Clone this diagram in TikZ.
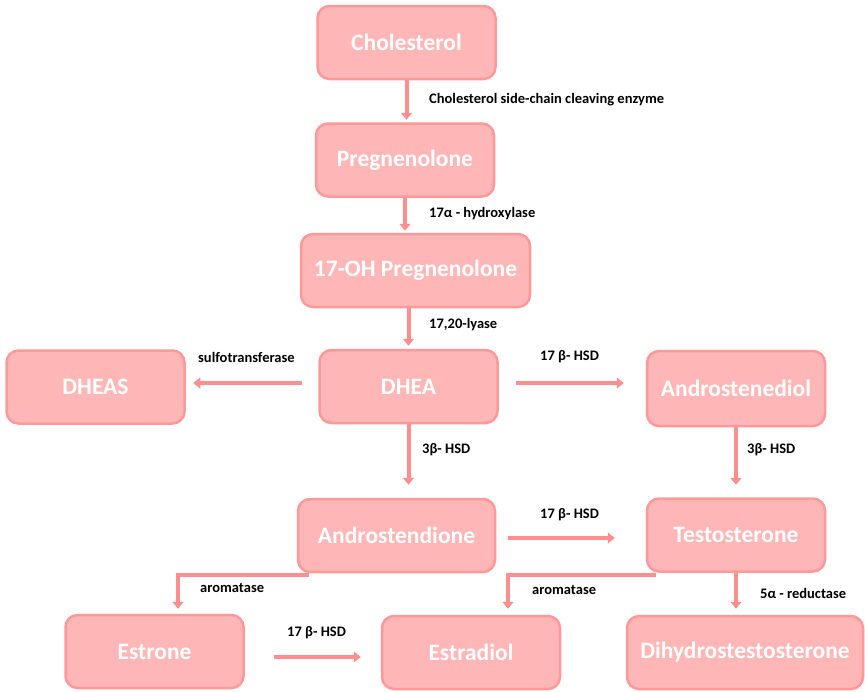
\documentclass[tikz,border=0pt]{standalone}
\usepackage{fontspec}
\setmainfont{Carlito}
\usetikzlibrary{arrows.meta,calc,positioning}
\definecolor{boxfill}{HTML}{FFB6B6}
\definecolor{boxline}{HTML}{FF9999}
\definecolor{arrowpink}{HTML}{FF8F8F}
\tikzset{
  chem/.style={draw=boxline, line width=2.5pt, fill=boxfill, rounded corners=12pt,
    text=white, font=\fontsize{23.5}{26}\selectfont\bfseries,
    minimum width=178pt, minimum height=73pt, inner sep=0pt},
  conv/.style={draw=arrowpink, line width=4pt, -{Triangle[length=7pt,width=11pt]}},
  enz/.style={font=\fontsize{14.5}{17}\selectfont\bfseries, anchor=west, inner sep=0pt}
}

\begin{document}
\begin{tikzpicture}[x=1pt,y=-1pt]
\useasboundingbox (0,0) rectangle (865,691);
% compounds
\node[chem] (chol) at (406.5,42.5) {Cholesterol};
\node[chem] (preg) at (405,160) {Pregnenolone};
\node[chem, minimum width=229pt] (ohpreg) at (415.5,270.5) {17-OH Pregnenolone};
\node[chem] (dheas) at (95.5,387) {DHEAS};
\node[chem] (dhea) at (408.5,386.5) {DHEA};
\node[chem, minimum height=75pt] (adiol) at (736,388.5) {Androstenediol};
\node[chem, minimum width=197pt] (adione) at (396.5,535.5) {Androstendione};
\node[chem] (testo) at (736,535) {Testosterone};
\node[chem] (estrone) at (154.5,651.5) {Estrone};
\node[chem] (estradiol) at (471,652.5) {Estradiol};
\node[chem, minimum width=236pt] (dht) at (745,652.5) {Dihydrostestosterone};
% conversions
\draw[conv, shorten >=2.5pt] (chol.south) -- (chol.south |- preg.north);
\draw[conv, shorten >=2pt] (preg.south) -- (preg.south |- ohpreg.north);
\draw[conv, shorten >=3pt] (dhea.north |- ohpreg.south) -- (dhea.north);
\draw[conv, shorten <=16pt, shorten >=7.5pt] ([yshift=3.5pt]dhea.west) -- ([yshift=4pt]dheas.east);
\draw[conv, shorten <=17.5pt, shorten >=22pt] ([yshift=3.5pt]dhea.east) -- ([yshift=5.5pt]adiol.west);
\draw[conv, shorten >=13pt] (dhea.south) -- (dhea.south |- adione.north);
\draw[conv, shorten >=12.5pt] (adiol.south) -- (adiol.south |- testo.north);
\draw[conv, shorten <=12pt, shorten >=31pt] ([yshift=-2.5pt]adione.east) -- ([yshift=-3pt]testo.west);
\draw[conv] ([xshift=12pt,yshift=-2pt]adione.south west) -| ([xshift=23.5pt,yshift=5pt]estrone.north);
\draw[conv] ([xshift=10pt,yshift=-2pt]testo.south west) -| ([xshift=37pt,yshift=6pt]estradiol.north);
\draw[conv, shorten >=6pt] (testo.south) -- (testo.south |- dht.north);
\draw[conv, shorten <=29pt, shorten >=20pt] ([yshift=-5.5pt]estrone.east) -- ([yshift=-4.5pt]estradiol.west);
% enzymes
\node[enz] (scc) at (429,100) {Cholesterol side-chain cleaving enzyme};
\node[enz] (hydrox) at (429,214) {17α - hydroxylase};
\node[enz] (lyase) at (429,325) {17,20-lyase};
\node[enz] (sulfo) at (198,357) {sulfotransferase};
\node[enz] (hsdA) at (540,357) {17 β- HSD};
\node[enz] (hsdB) at (422,450) {3β- HSD};
\node[enz] (hsdC) at (747,450) {3β- HSD};
\node[enz] (hsdD) at (540,515) {17 β- HSD};
\node[enz] (aromA) at (200,588) {aromatase};
\node[enz] (aromB) at (532,590) {aromatase};
\node[enz] (red) at (760,593) {5α - reductase};
\node[enz] (hsdE) at (287,633) {17 β- HSD};
\end{tikzpicture}
\end{document}
